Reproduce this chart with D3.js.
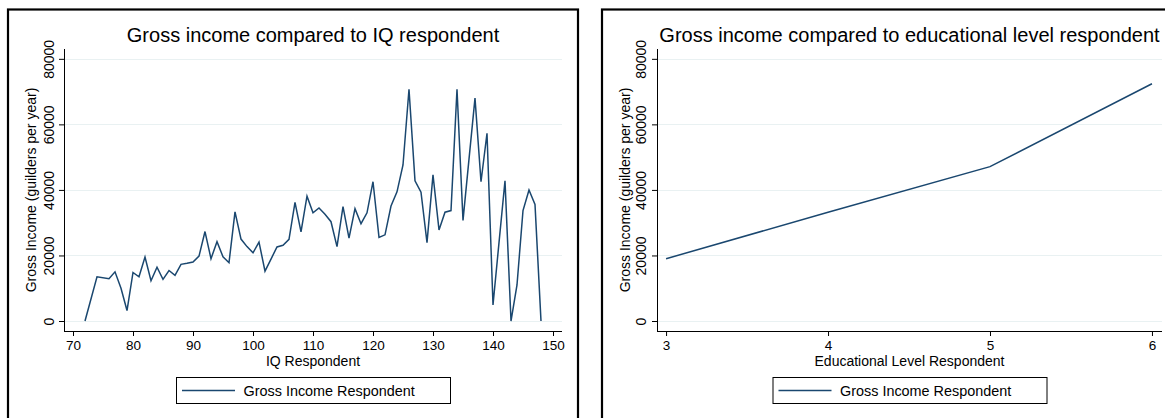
<!DOCTYPE html>
<html>
<head>
<meta charset="utf-8">
<script src="https://cdnjs.cloudflare.com/ajax/libs/d3/7.8.5/d3.min.js"></script>
<style>
    html, body { margin: 0; padding: 0; background: #fff; }
    svg { display: block; font-family: "Liberation Sans", Arial, sans-serif; }
    .tick text { fill: #000; }
</style>
</head>
<body>
<div id="chart"></div>
<script>
// left panel: income by IQ
const iqValues = [72, 74, 76, 77, 78, 79, 80, 81, 82, 83, 84, 85, 86, 87, 88, 89, 90,
    91, 92, 93, 94, 95, 96, 97, 98, 99, 100, 101, 102, 103, 104, 105, 106, 107, 108, 109, 110,
    111, 112, 113, 114, 115, 116, 117, 118, 119, 120, 121, 122, 123, 124, 125, 126, 127, 128, 129, 130,
    131, 132, 133, 134, 135, 136, 137, 138, 139, 140, 141, 142, 143, 144, 145, 146, 147, 148];
const incomeByIq = [0, 13500, 12900, 15000, 10000, 3200, 14800, 13500, 19500, 12300, 16400, 12700, 15400, 13900, 17300, 17600, 18000,
    19800, 27300, 19000, 24200, 19600, 17800, 33300, 25000, 22700, 20800, 24100, 15200, 18900, 22600, 23100, 24900, 36200, 27200, 38100, 33000,
    34500, 32600, 30300, 22700, 34900, 25300, 34300, 29700, 33000, 42500, 25500, 26300, 35100, 39400, 47600, 70700, 42800, 39300, 23900, 44600,
    27800, 33200, 33700, 70700, 30700, 49400, 68000, 42500, 57300, 4900, 23900, 42800, 0, 11000, 33700, 40000, 35600, 0];

// right panel: income by educational level
const eduLevels = [3, 4, 5, 6];
const incomeByEdu = [19000, 33200, 47100, 72400];

const yTicks = [0, 20000, 40000, 60000, 80000];
const iqTicks = [70, 80, 90, 100, 110, 120, 130, 140, 150];
const eduTicks = [3, 4, 5, 6];

const lineColor = '#1a476f';
const gridColor = '#e9f1f2';

const svg = d3.select('#chart').append('svg')
    .attr('width', 1165)
    .attr('height', 418);

function drawPanel(o) {
    // panel frame
    svg.append('rect')
        .attr('x', o.frameX)
        .attr('y', 9.5)
        .attr('width', o.frameW)
        .attr('height', 430)
        .attr('fill', 'none')
        .attr('stroke', '#000')
        .attr('stroke-width', 2.2);

    const xScale = d3.scaleLinear().domain(o.xDomain).range([o.left, o.right]);
    const yScale = d3.scaleLinear().domain([-3050, 83000]).range([331, 49]);
    const cx = (o.left + o.right) / 2;

    // gridlines
    svg.append('g')
        .selectAll('line')
        .data(yTicks)
        .enter()
        .append('line')
        .attr('x1', o.left + 1)
        .attr('x2', o.right)
        .attr('y1', d => Math.round(yScale(d)) + 0.5)
        .attr('y2', d => Math.round(yScale(d)) + 0.5)
        .attr('stroke', gridColor)
        .attr('stroke-width', 1.2);

    // y axis
    const yAxis = d3.axisLeft(yScale).tickValues(yTicks).tickSize(5).tickSizeOuter(0).tickFormat(d3.format('d'));
    const gy = svg.append('g')
        .attr('transform', `translate(${o.left}, 0)`)
        .call(yAxis);
    gy.select('.domain').attr('stroke', '#000').attr('d', `M0.5,49V331.5`);
    gy.selectAll('.tick line').attr('stroke', '#000');
    gy.selectAll('.tick text')
        .attr('font-size', 14)
        .attr('x', 0)
        .attr('dy', 0)
        .attr('transform', `translate(${o.yLabelX - o.left}, 0) rotate(-90)`)
        .style('text-anchor', 'middle');

    // x axis
    const xAxis = d3.axisBottom(xScale).tickValues(o.xTicks).tickSize(5).tickSizeOuter(0).tickFormat(d3.format('d'));
    const gx = svg.append('g')
        .attr('transform', 'translate(0, 331)')
        .call(xAxis);
    gx.select('.domain').attr('stroke', '#000').attr('d', `M${o.left},0.5H${o.right}`);
    gx.selectAll('.tick line').attr('stroke', '#000');
    gx.selectAll('.tick text')
        .attr('font-size', 13.5)
        .attr('y', 19)
        .attr('dy', 0);

    // axis titles
    svg.append('text')
        .attr('transform', `translate(${o.yTitleX}, 190) rotate(-90)`)
        .attr('text-anchor', 'middle')
        .attr('font-size', 14)
        .text('Gross Income (guilders per year)');

    svg.append('text')
        .attr('x', cx)
        .attr('y', 365.5)
        .attr('text-anchor', 'middle')
        .attr('font-size', 14)
        .text(o.xTitle);

    // title
    svg.append('text')
        .attr('x', cx)
        .attr('y', 42)
        .attr('text-anchor', 'middle')
        .attr('font-size', 20)
        .text(o.title);

    // the line
    const line = d3.line()
        .x(d => xScale(d[0]))
        .y(d => yScale(d[1]));

    svg.append('path')
        .datum(o.xs.map((x, i) => [x, o.ys[i]]))
        .attr('d', line)
        .attr('fill', 'none')
        .attr('stroke', lineColor)
        .attr('stroke-width', 1.5)
        .attr('stroke-linejoin', 'miter');

    // legend
    const lg = svg.append('g').attr('transform', `translate(${cx - 137}, 377)`);
    lg.append('rect')
        .attr('x', 0.5)
        .attr('y', 0.5)
        .attr('width', 274)
        .attr('height', 26)
        .attr('fill', '#fff')
        .attr('stroke', '#000');
    lg.append('line')
        .attr('x1', 6)
        .attr('x2', 59)
        .attr('y1', 13.5)
        .attr('y2', 13.5)
        .attr('stroke', lineColor)
        .attr('stroke-width', 1.5);
    lg.append('text')
        .attr('x', 67.5)
        .attr('y', 19)
        .attr('font-size', 14.4)
        .text('Gross Income Respondent');
}

drawPanel({
    frameX: 8, frameW: 570,
    left: 64, right: 562,
    xDomain: [68.5, 151.5],
    xTicks: iqTicks,
    yLabelX: 53.5, yTitleX: 36,
    xTitle: 'IQ Respondent',
    title: 'Gross income compared to IQ respondent',
    xs: iqValues, ys: incomeByIq
});

drawPanel({
    frameX: 602, frameW: 600,
    left: 657, right: 1162,
    xDomain: [2.944, 6.062],
    xTicks: eduTicks,
    yLabelX: 645.5, yTitleX: 630,
    xTitle: 'Educational Level Respondent',
    title: 'Gross income compared to educational level respondent',
    xs: eduLevels, ys: incomeByEdu
});
</script>
</body>
</html>
